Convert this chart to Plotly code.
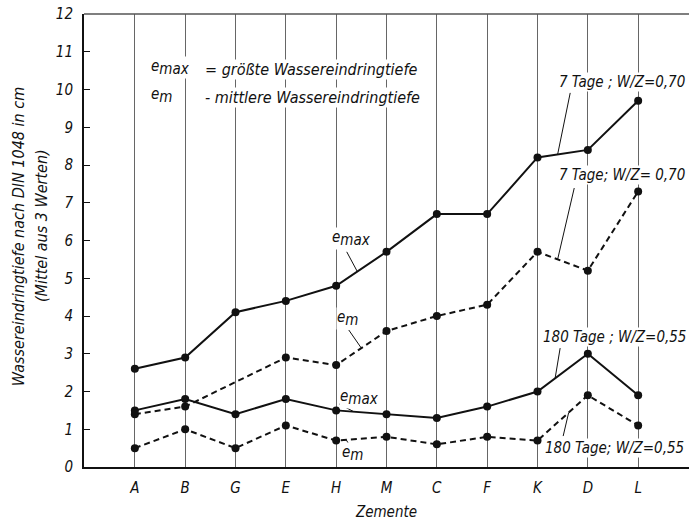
import plotly.graph_objects as go

# Zemente (cement types) along the x axis
zemente = ["A", "B", "G", "E", "H", "M", "C", "F", "K", "D", "L"]

# Wassereindringtiefe in cm (Mittel aus 3 Werten)
emax_7d = [2.6, 2.9, 4.1, 4.4, 4.8, 5.7, 6.7, 6.7, 8.2, 8.4, 9.7]
em_7d = [1.4, 1.6, None, 2.9, 2.7, 3.6, 4.0, 4.3, 5.7, 5.2, 7.3]
emax_180d = [1.5, 1.8, 1.4, 1.8, 1.5, 1.4, 1.3, 1.6, 2.0, 3.0, 1.9]
em_180d = [0.5, 1.0, 0.5, 1.1, 0.7, 0.8, 0.6, 0.8, 0.7, 1.9, 1.1]

y_ticks = list(range(0, 13))

FONT = "DejaVu Sans Condensed, DejaVu Sans, sans-serif"
INK = "#111111"

xs = list(range(len(zemente)))

fig = go.Figure()


def add_series(values, dashed):
    fig.add_trace(go.Scatter(
        x=xs, y=values, mode="lines+markers", connectgaps=True,
        line=dict(color=INK, width=2, dash="6px,4px" if dashed else "solid"),
        marker=dict(color=INK, size=8),
        showlegend=False, hoverinfo="skip",
    ))


add_series(emax_7d, False)
add_series(em_7d, True)
add_series(emax_180d, False)
add_series(em_180d, True)


def sym(sub):
    """Italic e with a large, lowered index."""
    return f"<i>e</i><sub><span style='font-size:15px'><i>{sub}</i></span></sub>"


def on_segment(values, i, t):
    """Point at fraction t between category i and i+1 of a series."""
    return i + t, values[i] + t * (values[i + 1] - values[i])


def label(text, x, y, size=15, xanchor="center"):
    fig.add_annotation(
        x=x, y=y, xref="x", yref="y", text=text, showarrow=False,
        xanchor=xanchor, yanchor="middle", bgcolor="white", borderpad=0,
        font=dict(family=FONT, size=size, color=INK),
    )


def leader(values, i, t, x_tail, y_tail):
    x0, y0 = on_segment(values, i, t)
    fig.add_shape(type="line", xref="x", yref="y", x0=x0, y0=y0,
                  x1=x_tail, y1=y_tail, line=dict(color=INK, width=1))


# curve labels with leader lines
label("<i>7 Tage ; W/Z=0,70</i>", 9.68, 10.2)
leader(emax_7d, 8, 0.4, 8.65, 9.91)
label("<i>7 Tage; W/Z= 0,70</i>", 9.68, 7.73)
leader(em_7d, 8, 0.4, 8.73, 7.39)
label("<i>180 Tage ; W/Z=0,55</i>", 9.52, 3.44)
leader(emax_180d, 8, 0.35, 8.45, 3.15)
label("<i>180 Tage; W/Z=0,55</i>", 9.52, 0.5)
leader(em_180d, 8, 0.62, 8.51, 0.82)

label(sym("max"), 4.31, 6.05)
leader(emax_7d, 4, 0.42, 4.21, 5.7)
label(sym("m"), 4.23, 3.93)
leader(em_7d, 4, 0.5, 4.25, 3.63)
label(sym("max"), 4.47, 1.84)
leader(emax_180d, 4, 0.35, 4.06, 1.67)
label(sym("m"), 4.33, 0.36)
leader(em_180d, 4, 0.2, 4.25, 0.61)

# key for the symbols
label(sym("max"), 0.3, 10.58, xanchor="left")
label("<i>= größte Wassereindringtiefe</i>", 1.38, 10.54, size=16, xanchor="left")
label(sym("m"), 0.3, 9.84, xanchor="left")
label("<i>- mittlere Wassereindringtiefe</i>", 1.38, 9.8, size=16, xanchor="left")

# y axis title, one annotation per line
for text, x_pos, y_pos in [
    ("<i>Wassereindringtiefe nach DIN 1048 in cm</i>", -0.107, 0.508),
    ("<i>(Mittel aus 3 Werten)</i>", -0.071, 0.532),
]:
    fig.add_annotation(
        x=x_pos, y=y_pos, xref="paper", yref="paper", textangle=-90,
        text=text, showarrow=False, xanchor="center", yanchor="middle",
        font=dict(family=FONT, size=16, color=INK),
    )

# frame line along the top
fig.add_shape(type="line", xref="paper", yref="paper", x0=0, x1=1, y0=1, y1=1,
              line=dict(color="#555555", width=1.5))

fig.update_layout(
    width=689, height=521,
    margin=dict(l=84, r=0, t=14, b=54),
    plot_bgcolor="white", paper_bgcolor="white",
    font=dict(family=FONT, size=15, color=INK),
    xaxis=dict(
        range=[-1.01, 11.01], tickvals=xs,
        ticktext=[f"<i>{z}</i>" for z in zemente],
        showgrid=True, gridcolor="#666666", gridwidth=1.2,
        showline=True, linecolor=INK, linewidth=2,
        ticks="", ticklabelstandoff=6, zeroline=False,
        title=dict(text="<i>Zemente</i>", standoff=10,
                   font=dict(family=FONT, size=15, color=INK)),
    ),
    yaxis=dict(
        range=[0, 12], tickvals=y_ticks,
        ticktext=[f"<i>{v}</i>" for v in y_ticks],
        showgrid=False, zeroline=False,
        showline=True, linecolor=INK, linewidth=2,
        ticks="inside", ticklen=6, tickcolor=INK, tickwidth=1,
        ticklabelstandoff=6,
    ),
)

fig.write_html("out.html")
